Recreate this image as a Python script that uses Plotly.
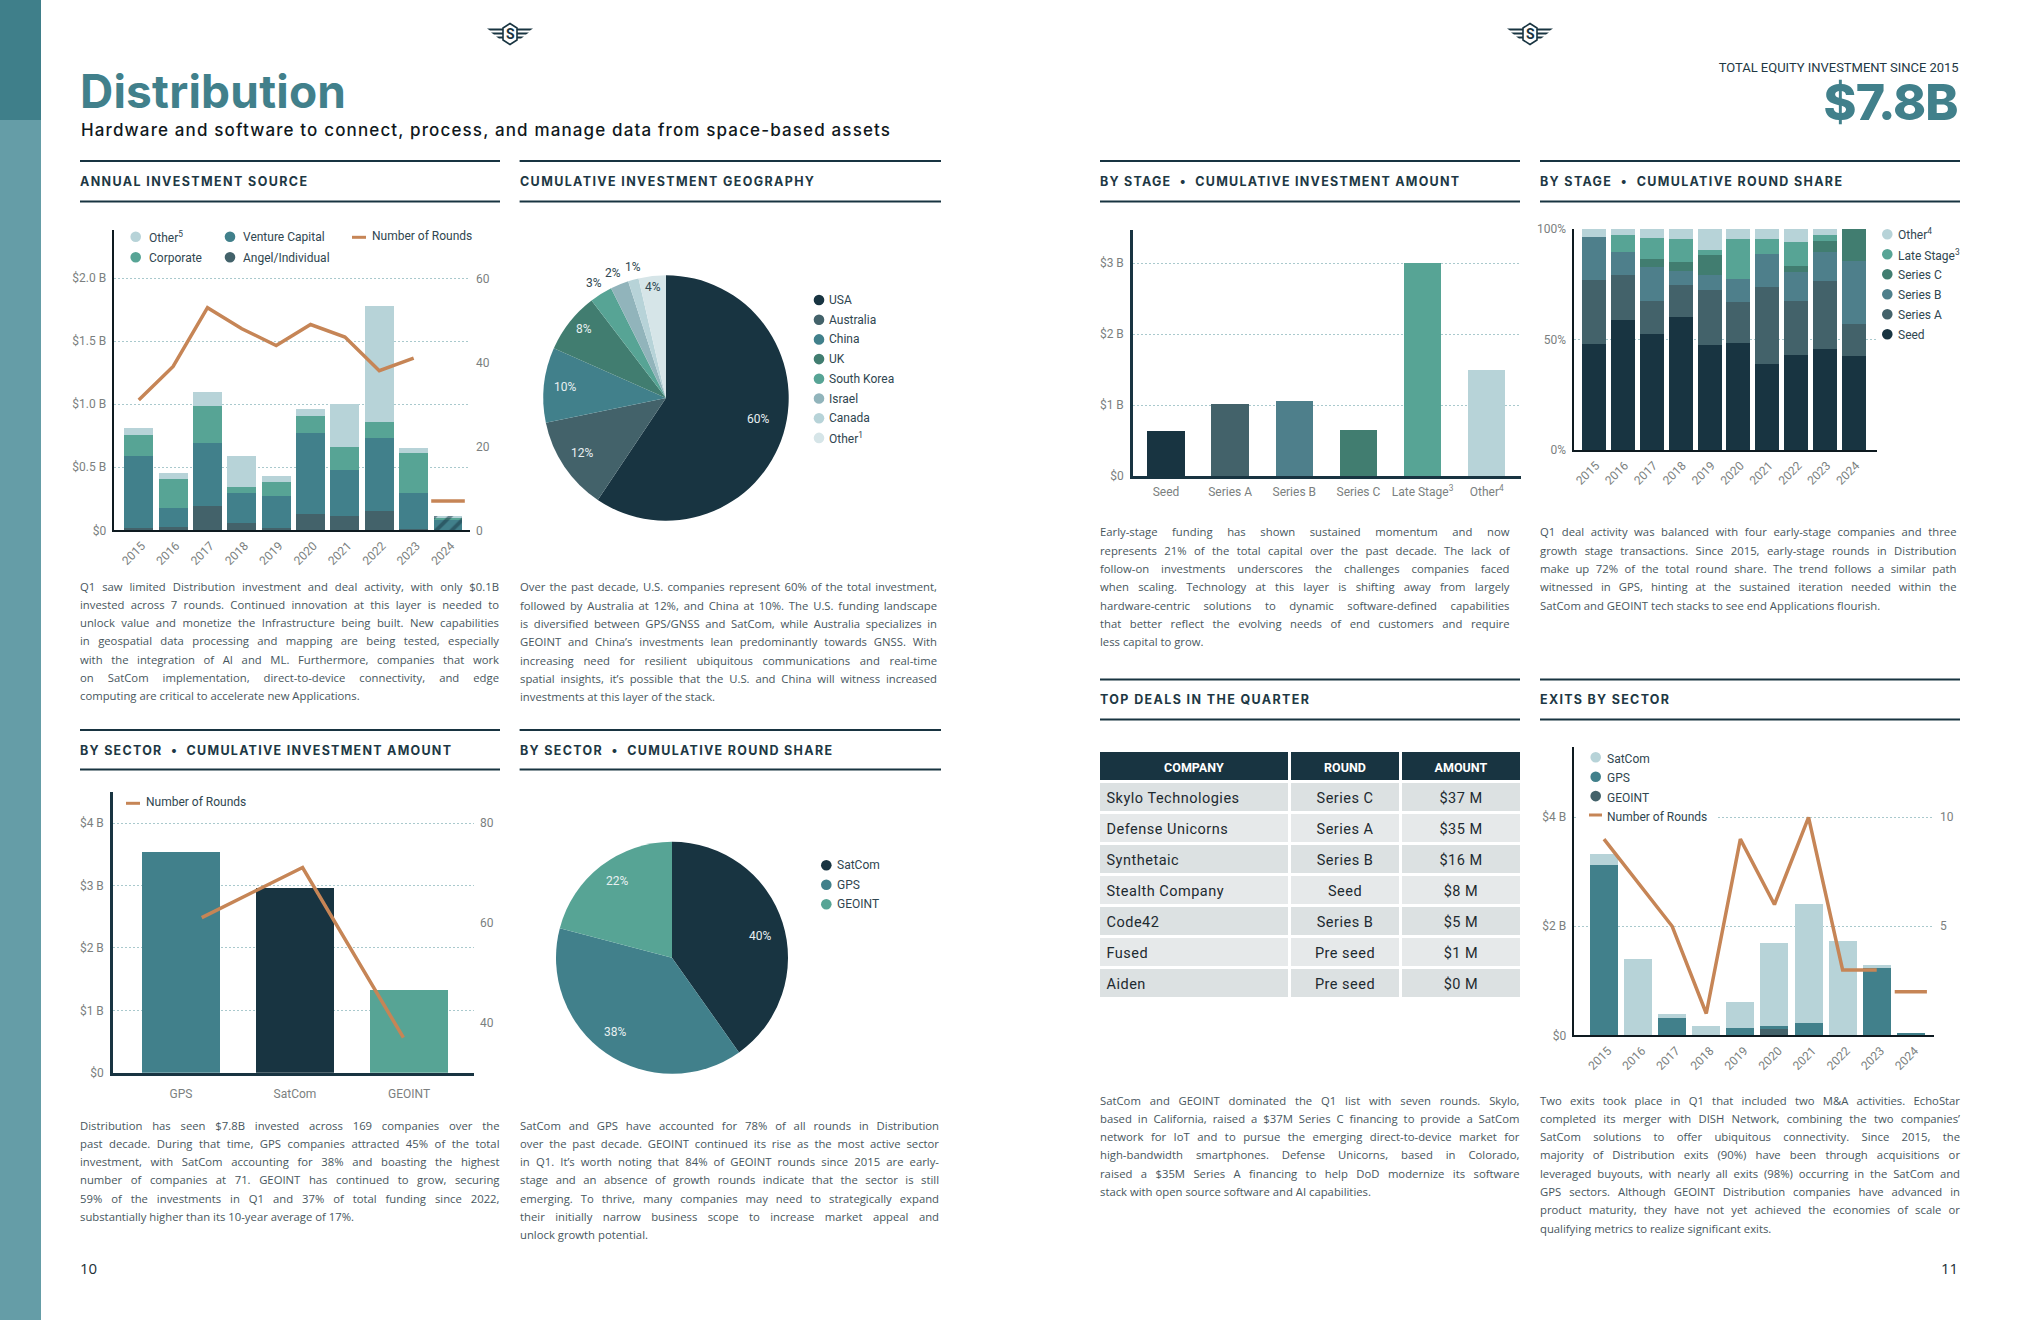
import plotly.graph_objects as go

W, H = 2040, 1320
NAVY, SLATE, TEAL, GREEN, LIGHT = "#183441", "#43626a", "#41808b", "#57a495", "#b7d3d8"
STB, UKG, ISR, PALE, ORANGE = "#4e7f8b", "#417d70", "#91b4bb", "#d6e5e8", "#c68556"
TICK = "#7b7f80"; LEG = "#2f4650"; BODY = "#47565d"; GRID = "#a9c9cd"; HEAD = "#1d3844"

# ---------------- data ----------------
years = ["2015","2016","2017","2018","2019","2020","2021","2022","2023","2024"]
src_angel = [0.02,0.03,0.193,0.058,0.018,0.13,0.114,0.153,0.008,0.003]
src_vc    = [0.57,0.147,0.50,0.238,0.254,0.642,0.365,0.58,0.288,0.08]
src_corp  = [0.167,0.23,0.294,0.048,0.112,0.135,0.182,0.127,0.318,0.015]
src_other = [0.055,0.048,0.111,0.246,0.047,0.056,0.342,0.92,0.039,0.016]
src_rounds = [31,39,53,48,44,49,46,38,41,None]
src_rounds_latest = [7]
src_y_vals = [0,0.5,1.0,1.5,2.0]
src_y_text = ["$0","$0.5 B","$1.0 B","$1.5 B","$2.0 B"]

geo_names = ["USA","Australia","China","UK","South Korea","Israel","Canada","Other<sup>1</sup>"]
geo_values = [59.5,12.4,9.9,8.0,3.0,2.4,1.4,3.6]
geo_labels = ["60%","12%","10%","8%","3%","2%","1%","4%"]

sector_names = ["GPS","SatCom","GEOINT"]
sector_amount = [3.54,2.96,1.327]
sector_rounds = [61,71,37]
share_names = ["SatCom","GPS","GEOINT"]
share_values = [40.2,38.9,20.9]
share_labels = ["40%","38%","22%"]

stage_names = ["Seed","Series A","Series B","Series C","Late Stage<sup>3</sup>","Other<sup>4</sup>"]
stage_amount = [0.634,1.014,1.056,0.648,3.0,1.493]

share_seed  = [48.0,58.8,52.5,60.2,47.5,48.4,38.9,43.0,45.7,42.5]
share_a     = [28.9,20.4,14.9,14.5,24.9,18.6,34.9,24.4,30.8,14.5]
share_b     = [19.5,10.4,15.4,6.3,6.8,10.4,14.9,13.1,13.1,28.5]
share_c     = [0,0,3.6,4.1,9.0,0,0,2.8,5.0,14.5]
share_late  = [0,7.7,9.5,10.4,2.3,18.1,6.8,10.8,2.7,0]
share_other = [3.6,2.7,4.1,4.5,9.5,4.5,4.5,5.9,2.7,0]

exit_geoint = [0,0,0,0,0,0.116,0,0,0,0]
exit_gps    = [3.125,0,0.318,0,0.135,0.055,0.226,0,1.235,0.024]
exit_satcom = [0.202,1.40,0.073,0.171,0.477,1.523,2.184,1.731,0.055,0]
exit_rounds = [9,7,5,1,9,6,10,3,3,None]
exit_rounds_latest = [2]

deal_company = ["Skylo Technologies","Defense Unicorns","Synthetaic","Stealth Company","Code42","Fused","Aiden"]
deal_round = ["Series C","Series A","Series B","Seed","Series B","Pre seed","Pre seed"]
deal_amount = ["$37 M","$35 M","$16 M","$8 M","$5 M","$1 M","$0 M"]

text_source = ["Q1 saw limited Distribution investment and deal activity, with only $0.1B",
 "invested across 7 rounds. Continued innovation at this layer is needed to",
 "unlock value and monetize the Infrastructure being built. New capabilities",
 "in geospatial data processing and mapping are being tested, especially",
 "with the integration of AI and ML. Furthermore, companies that work",
 "on SatCom implementation, direct-to-device connectivity, and edge",
 "computing are critical to accelerate new Applications."]
text_geo = ["Over the past decade, U.S. companies represent 60% of the total investment,",
 "followed by Australia at 12%, and China at 10%. The U.S. funding landscape",
 "is diversified between GPS/GNSS and SatCom, while Australia specializes in",
 "GEOINT and China\u2019s investments lean predominantly towards GNSS. With",
 "increasing need for resilient ubiquitous communications and real-time",
 "spatial insights, it\u2019s possible that the U.S. and China will witness increased",
 "investments at this layer of the stack."]
text_sector = ["Distribution has seen $7.8B invested across 169 companies over the",
 "past decade. During that time, GPS companies attracted 45% of the total",
 "investment, with SatCom accounting for 38% and boasting the highest",
 "number of companies at 71. GEOINT has continued to grow, securing",
 "59% of the investments in Q1 and 37% of total funding since 2022,",
 "substantially higher than its 10-year average of 17%."]
text_share = ["SatCom and GPS have accounted for 78% of all rounds in Distribution",
 "over the past decade. GEOINT continued its rise as the most active sector",
 "in Q1. It\u2019s worth noting that 84% of GEOINT rounds since 2015 are early-",
 "stage and an absence of growth rounds indicate that the sector is still",
 "emerging. To thrive, many companies may need to strategically expand",
 "their initially narrow business scope to increase market appeal and",
 "unlock growth potential."]
text_stage = ["Early-stage funding has shown sustained momentum and now",
 "represents 21% of the total capital over the past decade. The lack of",
 "follow-on investments underscores the challenges companies faced",
 "when scaling. Technology at this layer is shifting away from largely",
 "hardware-centric solutions to dynamic software-defined capabilities",
 "that better reflect the evolving needs of end customers and require",
 "less capital to grow."]
text_round = ["Q1 deal activity was balanced with four early-stage companies and three",
 "growth stage transactions. Since 2015, early-stage rounds in Distribution",
 "make up 72% of the total round share. The trend follows a similar path",
 "witnessed in GPS, hinting at the sustained iteration needed within the",
 "SatCom and GEOINT tech stacks to see end Applications flourish."]
text_deals = ["SatCom and GEOINT dominated the Q1 list with seven rounds. Skylo,",
 "based in California, raised a $37M Series C financing to provide a SatCom",
 "network for IoT and to pursue the emerging direct-to-device market for",
 "high-bandwidth smartphones. Defense Unicorns, based in Colorado,",
 "raised a $35M Series A financing to help DoD modernize its software",
 "stack with open source software and AI capabilities."]
text_exits = ["Two exits took place in Q1 that included two M&A activities. EchoStar",
 "completed its merger with DISH Network, combining the two companies\u2019",
 "SatCom solutions to offer ubiquitous connectivity. Since 2015, the",
 "majority of Distribution exits (90%) have been through acquisitions or",
 "leveraged buyouts, with nearly all exits (98%) occurring in the SatCom and",
 "GPS sectors. Although GEOINT Distribution companies have advanced in",
 "product maturity, they have not yet achieved the economies of scale or",
 "qualifying metrics to realize significant exits."]

# ---------------- helpers ----------------
def px(x): return x / W
def py(y): return 1 - y / H

fig = go.Figure()
annotations, shapes, layout = [], [], {}

def label(x, y, text, size=12, color=LEG, font="Roboto", weight=400, anchor="left", fit=None, just=None):
    a = dict(xref="paper", yref="paper", x=px(x), y=py(y), text=text, showarrow=False,
             xanchor=anchor, yanchor="middle", align=anchor, borderpad=0, borderwidth=0,
             font=dict(family=font, size=size, color=color, weight=weight))
    if fit: a["name"] = f"fit:{fit}"
    if just: a["name"] = f"just:{just}"
    annotations.append(a)

def rect(x0, y0, x1, y1, color, layer="below"):
    shapes.append(dict(type="rect", xref="paper", yref="paper", x0=px(x0), x1=px(x1), y0=py(y0), y1=py(y1),
                       fillcolor=color, line_width=0, layer=layer))

def dot(x, y, color, r=5.3):
    shapes.append(dict(type="circle", xref="paper", yref="paper", x0=px(x-r), x1=px(x+r), y0=py(y+r), y1=py(y-r),
                       fillcolor=color, line_width=0))

def dash(x0, x1, y):
    rect(x0, y-1.5, x1, y+1.5, ORANGE, layer="above")

def header(x0, x1, y_top, y_bot, y_text, title, text_w):
    rect(x0, y_top-1, x1, y_top+1, NAVY)
    rect(x0, y_bot-1, x1, y_bot+1, NAVY)
    label(x0, y_text, title, size=12.5, color=HEAD, font="Inter", weight=700, fit=text_w)

def paragraph(lines, x, y, width, pitch=18.33):
    for i, ln in enumerate(lines):
        label(x, y + i*pitch, ln, size=11.3, color=BODY, font="Open Sans",
              just=(width if i < len(lines)-1 else None))

def logo(cx, cy):
    d = []
    for dy, hw, hh in [(-4.5, 23, 1.1), (-0.5, 19, 1.1), (3.5, 14, 1.1)]:
        d.append(f"M{px(cx-hw)},{py(cy+dy-hh)} L{px(cx+hw)},{py(cy+dy-hh)} L{px(cx+hw-3)},{py(cy+dy+hh)} L{px(cx-hw+3)},{py(cy+dy+hh)} Z")
    shapes.append(dict(type="path", xref="paper", yref="paper", path=" ".join(d), fillcolor=NAVY, line_width=0))
    hexa = [(0,-10.5),(7,-6),(7,6),(0,10.5),(-7,6),(-7,-6)]
    shapes.append(dict(type="path", xref="paper", yref="paper",
        path="M" + " L".join(f"{px(cx+a)},{py(cy+b)}" for a,b in hexa) + " Z",
        fillcolor="#ffffff", line=dict(color=NAVY, width=1.6)))
    label(cx, cy, "S", size=14, color=NAVY, font="Roboto", weight=700, anchor="center")

def x_axis(name, x0, x1, anchor, rng, cats, **kw):
    layout[name] = dict(domain=[px(x0), px(x1)], type="category", categoryorder="array", categoryarray=cats,
                        range=rng, showgrid=False, zeroline=False, showline=True, linecolor=kw.pop("lc", "#0e1a20"),
                        linewidth=kw.pop("lw", 1.5), ticks="", anchor=anchor, tickfont=dict(family="Roboto", size=12, color=TICK),
                        fixedrange=True, automargin=False, **kw)

def y_axis(name, y0, y1, rng, vals, txt, anchor, lc="#0e1a20", lw=1.5, **kw):
    layout[name] = dict(domain=[py(y1), py(y0)], range=rng, tickvals=vals, ticktext=txt, showgrid=True,
                        gridcolor=GRID, griddash="2px,2px", gridwidth=1, zeroline=False, showline=True,
                        linecolor=lc, linewidth=lw, ticks="", anchor=anchor,
                        tickfont=dict(family="Roboto", size=12, color=TICK), ticklabelstandoff=4,
                        fixedrange=True, automargin=False, **kw)

def y_right(name, rng, vals, overlay, anchor):
    layout[name] = dict(overlaying=overlay, side="right", anchor=anchor, range=rng, tickvals=vals,
                        ticktext=[str(v) for v in vals], showgrid=False, zeroline=False, showline=False, ticks="",
                        tickfont=dict(family="Roboto", size=12, color=TICK), ticklabelstandoff=5,
                        fixedrange=True, automargin=False)

# ---------------- page furniture ----------------
rect(0, 120, 41, H, "#659da7")
rect(0, 0, 41, 120, "#3f7f8a")
logo(510, 34); logo(1530, 34)
label(80, 91, "Distribution", size=46, color=TEAL, font="Inter", weight=700, fit=266)
label(80.5, 129.5, "Hardware and software to connect, process, and manage data from space-based assets",
      size=17, color="#10181c", font="Inter", weight=500, fit=809)
label(1958.5, 67, "TOTAL EQUITY INVESTMENT SINCE 2015", size=13, color=HEAD, anchor="right", fit=240)
label(1958, 102, "$7.8B", size=50, color=TEAL, font="Inter", weight=800, anchor="right", fit=135)
label(80, 1268, "10", size=15, color="#222f35", font="Open Sans")
label(1958, 1268, "11", size=15, color="#222f35", font="Open Sans", anchor="right")

header(80, 500, 161, 201.5, 181.5, "ANNUAL INVESTMENT SOURCE", 227)
header(519.6, 941, 161, 201.5, 181.5, "CUMULATIVE INVESTMENT GEOGRAPHY", 294)
header(80, 500, 730, 769.5, 750, "BY SECTOR \u00a0\u2022\u00a0 CUMULATIVE INVESTMENT AMOUNT", 371)
header(519.6, 941, 730, 769.5, 750, "BY SECTOR \u00a0\u2022\u00a0 CUMULATIVE ROUND SHARE", 312)
header(1100, 1520, 161, 201.5, 181.5, "BY STAGE \u00a0\u2022\u00a0 CUMULATIVE INVESTMENT AMOUNT", 359)
header(1540, 1960, 161, 201.5, 181.5, "BY STAGE \u00a0\u2022\u00a0 CUMULATIVE ROUND SHARE", 302)
header(1100, 1520, 679.5, 719.5, 699.5, "TOP DEALS IN THE QUARTER", 209)
header(1540, 1960, 679.5, 719.5, 699.5, "EXITS BY SECTOR", 129)

paragraph(text_source, 80, 586, 419)
paragraph(text_geo, 520, 586.8, 417)
paragraph(text_sector, 80, 1125, 419.5)
paragraph(text_share, 520, 1125, 419)
paragraph(text_stage, 1100, 531.7, 409.5)
paragraph(text_round, 1540, 531.7, 416.5)
paragraph(text_deals, 1100, 1100, 419.5)
paragraph(text_exits, 1540, 1100, 420)

# ---------------- chart: annual investment source ----------------
x_axis("xaxis", 114.3, 470, "y", [-0.712, 9.64], years, tickangle=-45, ticklabelshift=3, ticklabelstandoff=2)
y_axis("yaxis", 230, 530.3, [0, 2.383], src_y_vals, src_y_text, "x")
y_right("yaxis2", [0, 71.5], [0,20,40,60], "y", "x")
for name, vals, col in [("Angel/Individual", src_angel, SLATE), ("Venture Capital", src_vc, TEAL),
                        ("Corporate", src_corp, GREEN), ("Other", src_other, LIGHT)]:
    fig.add_bar(x=years, y=vals, name=name, xaxis="x", yaxis="y",
                marker=dict(color=col, line_width=0,
                            pattern=dict(shape=[""]*9+["/"], fgcolor=NAVY, size=11, solidity=0.35)))
fig.add_scatter(x=years, y=src_rounds, mode="lines", xaxis="x", yaxis="y2", name="Number of Rounds",
                line=dict(color=ORANGE, width=3.5))
fig.add_scatter(x=years[-1:], y=src_rounds_latest, mode="markers", xaxis="x", yaxis="y2", name="Number of Rounds",
                marker=dict(symbol="line-ew", size=24, line=dict(color=ORANGE, width=3.5)))
dot(135.7, 236.7, LIGHT); label(149, 237, "Other<sup>5</sup>")
dot(135.7, 257.3, GREEN); label(149, 257.5, "Corporate")
dot(230, 236.7, TEAL); label(243, 237, "Venture Capital")
dot(230, 257.3, SLATE); label(243, 257.5, "Angel/Individual")
dash(352, 366, 237.3); label(371.7, 236.3, "Number of Rounds")

# ---------------- pie: geography ----------------
geo_colors = [NAVY, SLATE, TEAL, UKG, GREEN, ISR, LIGHT, PALE]
fig.add_pie(values=geo_values, labels=geo_names, sort=False, direction="clockwise", rotation=0, textinfo="none",
            marker=dict(colors=geo_colors, line_width=0), domain=dict(x=[px(543.3), px(788.7)], y=[py(521), py(275)]),
            showlegend=False)
geo_pos = [(758.3,419.3),(582,453),(565,387),(584,329),(594,283),(613,273),(633,267),(653,287)]
geo_col = ["#e8f0f1","#e8f0f1","#e8f0f1","#e8f0f1",LEG,LEG,LEG,LEG]
for t, (a,b), c in zip(geo_labels, geo_pos, geo_col):
    label(a, b, t, size=12, color=c, anchor="center")
for i, (n, c) in enumerate(zip(geo_names, geo_colors)):
    dot(819, 300 + i*19.7, c); label(829, 300 + i*19.7, n)

# ---------------- chart: sector amount ----------------
x_axis("xaxis4", 113, 474, "y5", [-0.596, 2.57], sector_names, lc=NAVY, lw=2.5, ticklabelstandoff=8)
y_axis("yaxis5", 792, 1072.7, [0, 4.5], [0,1,2,3,4], ["$0","$1 B","$2 B","$3 B","$4 B"], "x4", lc=NAVY, lw=2.5)
y_right("yaxis6", [30, 86.1], [40,60,80], "y5", "x4")
layout["xaxis5"] = dict(overlaying="x4", visible=False, type="category", categoryorder="array",
                        categoryarray=sector_names, range=[-0.88, 2.70], anchor="y6", fixedrange=True)
fig.add_bar(x=sector_names, y=sector_amount, xaxis="x4", yaxis="y5", name="Amount",
            marker=dict(color=[TEAL, NAVY, GREEN], line_width=0))
fig.add_scatter(x=sector_names, y=sector_rounds, mode="lines", xaxis="x5", yaxis="y6", name="Number of Rounds",
                line=dict(color=ORANGE, width=3.5))
dash(126, 140, 803.3); label(146.3, 802.3, "Number of Rounds")

# ---------------- pie: sector round share ----------------
share_colors = [NAVY, TEAL, GREEN]
fig.add_pie(values=share_values, labels=share_names, sort=False, direction="clockwise", rotation=0, textinfo="none",
            marker=dict(colors=share_colors, line_width=0), domain=dict(x=[px(556), px(788)], y=[py(1073.7), py(841.7)]),
            showlegend=False)
for t, (a,b) in zip(share_labels, [(760.3,935.7),(615.3,1031.7),(616.7,880.7)]):
    label(a, b, t, size=12, color="#e8f0f1", anchor="center")
for i, (n, c) in enumerate(zip(share_names, share_colors)):
    dot(826.3, 865.3 + i*19.5, c); label(836.7, 865 + i*19.5, n)

# ---------------- chart: stage amount ----------------
x_axis("xaxis2", 1133, 1520.7, "y3", [-0.515, 5.53], stage_names, lc=NAVY, lw=2.5, ticklabelstandoff=3)
y_axis("yaxis3", 230, 476, [0, 3.465], [0,1,2,3], ["$0","$1 B","$2 B","$3 B"], "x2", lc=NAVY, lw=2.5)
fig.add_bar(x=stage_names, y=stage_amount, xaxis="x2", yaxis="y3", name="Stage amount",
            marker=dict(color=[NAVY, SLATE, STB, UKG, GREEN, LIGHT], line_width=0))

# ---------------- chart: stage round share ----------------
x_axis("xaxis3", 1574.3, 1876.7, "y4", [-0.68, 9.785], years, tickangle=-45, ticklabelshift=2, ticklabelstandoff=2)
y_axis("yaxis4", 229, 450, [0, 100], [0,50,100], ["0%","50%","100%"], "x3")
share_series = [("Seed", share_seed, NAVY), ("Series A", share_a, SLATE), ("Series B", share_b, STB),
                ("Series C", share_c, UKG), ("Late Stage<sup>3</sup>", share_late, GREEN), ("Other<sup>4</sup>", share_other, LIGHT)]
for n, v, c in share_series:
    fig.add_bar(x=years, y=v, name=n, xaxis="x3", yaxis="y4", marker=dict(color=c, line_width=0))
for i, (n, v, c) in enumerate(reversed(share_series)):
    dot(1887.3, 234.3 + i*20, c); label(1897.7, 234.5 + i*20, n)

# ---------------- chart: exits ----------------
x_axis("xaxis6", 1574.3, 1934, "y7", [-0.871, 9.68], years, tickangle=-45, ticklabelshift=4, ticklabelstandoff=2)
y_axis("yaxis7", 747.3, 1035.3, [0, 5.284], [0,2,4], ["$0","$2 B","$4 B"], "x6")
y_right("yaxis8", [0, 13.21], [5,10], "y7", "x6")
for n, v, c in [("GEOINT", exit_geoint, SLATE), ("GPS", exit_gps, TEAL), ("SatCom", exit_satcom, LIGHT)]:
    fig.add_bar(x=years, y=v, name=n, xaxis="x6", yaxis="y7", marker=dict(color=c, line_width=0))
fig.add_scatter(x=years, y=exit_rounds, mode="lines", xaxis="x6", yaxis="y8", name="Number of Rounds",
                line=dict(color=ORANGE, width=3.5))
fig.add_scatter(x=years[-1:], y=exit_rounds_latest, mode="markers", xaxis="x6", yaxis="y8", name="Number of Rounds",
                marker=dict(symbol="line-ew", size=23, line=dict(color=ORANGE, width=3.5)))
rect(1576, 808, 1716, 826, "#ffffff", layer="above")
for i, (n, c) in enumerate([("SatCom", LIGHT), ("GPS", TEAL), ("GEOINT", SLATE)]):
    dot(1595.7, 757.3 + i*19.4, c); label(1607, 759 + i*19.4, n)
dash(1589, 1602, 815); label(1607, 817, "Number of Rounds")

# ---------------- table ----------------
row_fill = ["#dce1e2", "#e6e9ea"] * 3 + ["#dce1e2"]
fig.add_table(domain=dict(x=[px(1098.5), px(1521.5)], y=[py(1003), py(750.5)]), columnwidth=[191, 111, 121],
              header=dict(values=["<b>COMPANY</b>", "<b>ROUND</b>", "<b>AMOUNT</b>"], height=31, fill_color=NAVY,
                          line=dict(color="#ffffff", width=3), align="center",
                          font=dict(family="Roboto", size=12.5, color="#ffffff")),
              cells=dict(values=[deal_company, deal_round, deal_amount], height=31,
                         fill_color=[row_fill]*3, line=dict(color="#ffffff", width=3),
                         align=["left", "center", "center"],
                         font=dict(family="Roboto", size=14.5, color="#1d2a30")))

fig.update_layout(width=W, height=H, margin=dict(l=0, r=0, t=0, b=0), paper_bgcolor="#ffffff", plot_bgcolor="rgba(0,0,0,0)",
                  barmode="stack", bargap=0.16, showlegend=False, shapes=shapes, annotations=annotations, **layout)

# per-subplot bar widths via width in category units
bar_w = {"x": 0.843, "x2": 0.585, "x3": 0.83, "x4": 0.684, "x6": 0.822}
for tr in fig.data:
    if tr.type == "bar":
        tr.width = bar_w[tr.xaxis]

post = """
document.documentElement.style.margin = '0';
document.body.style.margin = '0';
document.body.style.overflow = 'hidden';
var gd = document.querySelector('.js-plotly-plot');
(gd.layout.annotations || []).forEach(function(a, i){
  if(!a.name) return;
  var g = document.querySelector('.annotation[data-index="' + i + '"] text.annotation-text');
  if(!g) return;
  var parts = a.name.split(':'), target = parseFloat(parts[1]);
  var L = g.getComputedTextLength(), s = g.textContent;
  if(parts[0] === 'fit'){ g.style.letterSpacing = ((target - L) / Math.max(1, s.length - 1)) + 'px'; }
  else { var n = (s.match(/ /g) || []).length; if(n) g.style.wordSpacing = ((target - L) / n) + 'px'; }
});
function tidy(){
  document.querySelectorAll('.table .cell-text').forEach(function(t){
    if(t.dataset.done) return;
    t.dataset.done = '1';
    var isHead = t.textContent === t.textContent.toUpperCase() && /[A-Z]{4}/.test(t.textContent);
    var old = t.getAttribute('transform') || '';
    t.setAttribute('transform', old + ' translate(0,' + (isHead ? 1.5 : 2.5) + ')');
    if(!isHead) t.style.letterSpacing = '0.5px';
  });
}
tidy(); setTimeout(tidy, 300);
"""
fig.write_html("out.html", post_script=post, config=dict(displayModeBar=False))
